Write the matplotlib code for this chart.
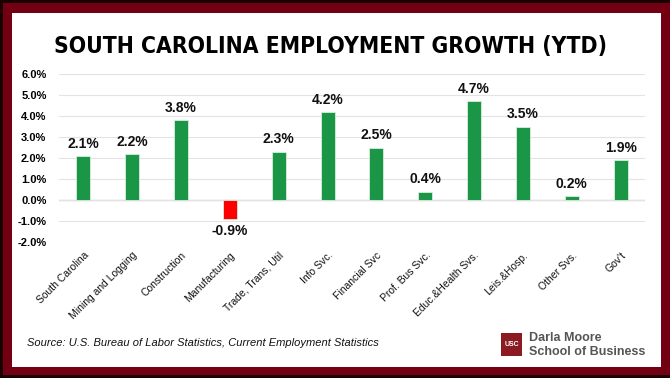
import matplotlib
matplotlib.use("Agg")
import matplotlib.pyplot as plt
from matplotlib.patches import Rectangle

categories = ["South Carolina", "Mining and Logging", "Construction", "Manufacturing",
              "Trade, Trans, Util", "Info Svc.", "Financial Svc", "Prof. Bus Svc.",
              "Educ.&Health Svs.", "Leis.&Hosp.", "Other Svs.", "Gov't"]
growth = [2.1, 2.2, 3.8, -0.9, 2.3, 4.2, 2.5, 0.4, 4.7, 3.5, 0.2, 1.9]
yticks = [-2, -1, 0, 1, 2, 3, 4, 5, 6]

W, H = 670, 378
GREEN = "#1a9646"
RED = "#ff0000"
MAROON = "#730012"

plt.rcParams["font.family"] = ["Liberation Sans", "DejaVu Sans"]

fig = plt.figure(figsize=(W / 100, H / 100), dpi=100)
fig.patch.set_facecolor("#1a0000")


def px_rect(x0, y0, x1, y1, **kw):
    # rectangle in pixel coords measured from top-left
    fig.patches.append(Rectangle((x0 / W, 1 - y1 / H), (x1 - x0) / W, (y1 - y0) / H,
                                 transform=fig.transFigure, figure=fig, zorder=-5, **kw))


px_rect(3, 3, 670, 375, color=MAROON, lw=0)
px_rect(12, 13, 661, 367, color="white", lw=0)

ax = fig.add_axes([59 / W, 1 - 242 / H, 586 / W, 168 / H])
ax.set_facecolor("none")
x = range(len(categories))
colors = [GREEN if v >= 0 else RED for v in growth]
ax.bar(x, growth, width=0.29, color=colors, edgecolor="#d8eedd", linewidth=0.6, zorder=3)
for i, v in zip(x, growth):
    off = 0.25 if v >= 0 else -0.25
    ax.text(i, v + off, f"{v:.1f}%", ha="center", va="bottom" if v >= 0 else "top",
            fontsize=10, fontweight="bold", color="#111111", zorder=4)

ax.set_xlim(-0.5, len(categories) - 0.5)
ax.set_ylim(-2, 6)
ax.set_yticks(yticks)
ax.set_yticklabels([f"{t:.1f}%" for t in yticks], fontsize=8, fontweight="bold")
ax.grid(axis="y", color="#e3e3e3", linewidth=0.8, zorder=0)
ax.axhline(0, color="#cfcfcf", linewidth=1, zorder=1)
ax.set_xticks(list(x))
ax.set_xticklabels(categories, rotation=45, ha="right", rotation_mode="anchor",
                   fontsize=7.5, color="#111111")
ax.tick_params(length=0, pad=6)
ax.tick_params(axis="y", pad=9)
for s in ax.spines.values():
    s.set_visible(False)

title = fig.text(331 / W, 1 - 46 / H, "SOUTH CAROLINA EMPLOYMENT GROWTH (YTD)",
                 ha="center", va="center", fontsize=24, fontweight="bold",
                 fontstretch="condensed", family="DejaVu Sans", color="black")
# shrink the title until it spans roughly the reference width
r = fig.canvas.get_renderer()
tw = title.get_window_extent(r).width
title.set_fontsize(24 * min(1.0, 552 / tw))

fig.text(27 / W, 1 - 343 / H, "Source: U.S. Bureau of Labor Statistics, Current Employment Statistics",
         ha="left", va="center", fontsize=8, style="italic", color="#111111")

# logo
px_rect(501, 333, 522, 356, color="#8c1a22", lw=0)
fig.text(511.5 / W, 1 - 344.5 / H, "USC", ha="center", va="center", fontsize=5,
         color="white", fontweight="bold")
fig.text(529 / W, 1 - 338 / H, "Darla Moore", ha="left", va="center", fontsize=9,
         fontweight="bold", color="#555555")
fig.text(529 / W, 1 - 352 / H, "School of Business", ha="left", va="center", fontsize=9,
         fontweight="bold", color="#555555")

fig.savefig("out.png", dpi=100, facecolor=fig.get_facecolor())
